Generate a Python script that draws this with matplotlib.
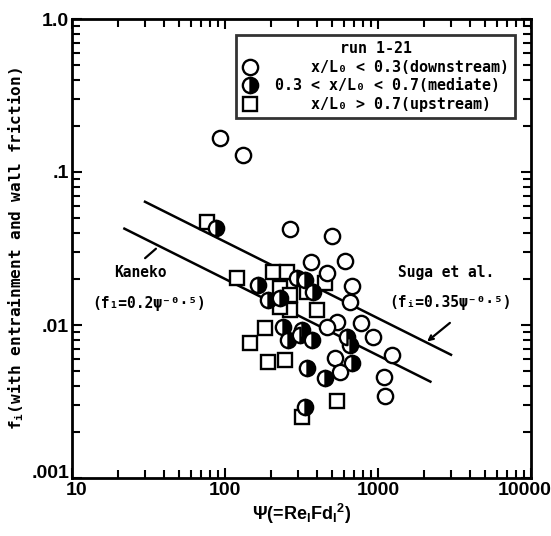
import numpy as np
import matplotlib
matplotlib.use("Agg")
import matplotlib.pyplot as plt
from matplotlib.lines import Line2D
import matplotlib.transforms as mtransforms
from matplotlib.ticker import FixedLocator, FixedFormatter, LogLocator, NullFormatter

plt.rcParams['mathtext.default'] = 'regular'

# ---- data ----
down_psi = [93, 131, 266, 500, 365, 608, 464, 676, 656, 540, 774, 927, 1235, 1095, 1110, 523, 565, 464]
down_f = [0.167, 0.129, 0.0424, 0.0382, 0.0258, 0.0262, 0.0219, 0.018, 0.0141, 0.0105,
          0.0103, 0.00835, 0.00637, 0.00457, 0.00343, 0.00608, 0.00493, 0.0097]

mid_psi = [87, 164, 296, 334, 191, 239, 318, 258, 370, 344, 451, 334, 676, 656, 376, 309, 627, 229]
mid_f = [0.043, 0.0183, 0.0203, 0.0197, 0.0146, 0.0097, 0.0093, 0.0080, 0.0080,
         0.0052, 0.0045, 0.0029, 0.00565, 0.0074, 0.0164, 0.0086, 0.0083, 0.015]

up_psi = [76, 120, 206, 254, 230, 399, 183, 146, 191, 247, 540, 318, 451, 266, 344, 266, 229]
up_f = [0.047, 0.0203, 0.0222, 0.0222, 0.0175, 0.0125, 0.0096, 0.0076, 0.0057,
        0.0059, 0.0032, 0.0025, 0.0188, 0.0157, 0.0164, 0.0125, 0.0131]

suga_psi = np.array([30, 3000])
suga_coef = 0.35
kaneko_psi = np.array([22, 2200])
kaneko_coef = 0.2
exponent = -0.5

x_ticks = [10, 100, 1000, 10000]
x_labels = ["10", "100", "1000", "10000"]
y_ticks = [0.001, 0.01, 0.1, 1.0]
y_labels = [".001", ".01", ".1", "1.0"]

legend_labels = ["    x/L\u2080 < 0.3(downstream)",
                 "0.3 < x/L\u2080 < 0.7(mediate)",
                 "    x/L\u2080 > 0.7(upstream)"]
legend_title = "run 1-21"

mono = ['DejaVu Sans Mono', 'DejaVu Sans']
sans = ['Liberation Sans', 'DejaVu Sans']

fig = plt.figure(figsize=(5.51, 5.36), dpi=100)
ax = fig.add_axes([72/551, 1-478/536, 459/551, 459/536])
ax.set_xscale('log')
ax.set_yscale('log')
ax.set_xlim(10, 10000)
ax.set_ylim(0.001, 1.0)

# model lines
ax.plot(suga_psi, suga_coef*suga_psi**exponent, color='black', lw=1.8, zorder=2)
ax.plot(kaneko_psi, kaneko_coef*kaneko_psi**exponent, color='black', lw=1.8, zorder=2)

ms = 11
mew = 1.7
ax.plot(up_psi, up_f, linestyle='none', marker='s', ms=ms-1, mfc='white', mec='black', mew=mew, zorder=3)
ax.plot(mid_psi, mid_f, linestyle='none', marker='o', ms=ms, mfc='black', mec='black', mew=mew,
        fillstyle='right', markerfacecoloralt='white', zorder=4)
ax.plot(down_psi, down_f, linestyle='none', marker='o', ms=ms, mfc='white', mec='black', mew=mew, zorder=5)

# annotations
ax.text(27.8, 0.0222, "Kaneko", family=mono, fontweight='bold', fontsize=10.5, ha='center', va='center')
ax.text(32, 0.0139, "(f\u2081=0.2\u03c8\u207b\u2070\u00b7\u2075)", family=mono, fontweight='bold', fontsize=10.5, ha='center', va='center')
ax.annotate("", xy=(36.5, 0.0324), xytext=(29.1, 0.0266),
            arrowprops=dict(arrowstyle='-', color='black', lw=1.6))
ax.text(2780, 0.0222, "Suga et al.", family=mono, fontweight='bold', fontsize=10.5, ha='center', va='center')
ax.text(3000, 0.0141, "(f\u1d62=0.35\u03c8\u207b\u2070\u00b7\u2075)", family=mono, fontweight='bold', fontsize=10.5, ha='center', va='center')
ax.annotate("", xy=(2028, 0.0076), xytext=(3048, 0.0106),
            arrowprops=dict(arrowstyle='->', color='black', lw=1.6, mutation_scale=8))

# ticks
ax.xaxis.set_major_locator(FixedLocator(x_ticks))
ax.xaxis.set_major_formatter(FixedFormatter(x_labels))
ax.yaxis.set_major_locator(FixedLocator(y_ticks))
ax.yaxis.set_major_formatter(FixedFormatter(y_labels))
ax.xaxis.set_minor_locator(LogLocator(base=10, subs=np.arange(2, 10)))
ax.yaxis.set_minor_locator(LogLocator(base=10, subs=np.arange(2, 10)))
ax.xaxis.set_minor_formatter(NullFormatter())
ax.yaxis.set_minor_formatter(NullFormatter())
ax.tick_params(which='both', direction='in', top=True, right=True, width=1.5, color='black')
ax.tick_params(which='major', length=7)
ax.tick_params(which='minor', length=6)
ax.tick_params(axis='x', pad=3)
ax.tick_params(axis='y', pad=2)
for lab in ax.get_xticklabels() + ax.get_yticklabels():
    lab.set_family(sans)
    lab.set_fontweight('bold')
    lab.set_fontsize(14)
# lift the lowest y label a little, as in the reference
ylabs = ax.get_yticklabels()
ylabs[0].set_transform(ylabs[0].get_transform() + mtransforms.ScaledTranslation(0, 6/100, fig.dpi_scale_trans))
xlabs = ax.get_xticklabels()
xlabs[0].set_transform(xlabs[0].get_transform() + mtransforms.ScaledTranslation(5/100, 0, fig.dpi_scale_trans))
xlabs[-1].set_transform(xlabs[-1].get_transform() + mtransforms.ScaledTranslation(-6/100, 0, fig.dpi_scale_trans))
for sp in ax.spines.values():
    sp.set_linewidth(2)

ax.set_xlabel("\u03a8(=Re$_I$Fd$_I$$^2$)", family=sans, fontweight='bold', fontsize=13, labelpad=2)
ax.set_ylabel("f$_i$(with entrainment and wall friction)", family=mono, fontweight='bold', fontsize=11.5, labelpad=4)

# legend
handles = [
    Line2D([], [], linestyle='none', marker='o', ms=ms, mfc='white', mec='black', mew=mew),
    Line2D([], [], linestyle='none', marker='o', ms=ms, mfc='black', mec='black', mew=mew,
           fillstyle='right', markerfacecoloralt='white'),
    Line2D([], [], linestyle='none', marker='s', ms=ms-1, mfc='white', mec='black', mew=mew),
]
leg = ax.legend(handles, legend_labels, title=legend_title, loc='upper right',
                bbox_to_anchor=((515-72)/459, (478-35)/459), borderaxespad=0,
                frameon=True, fancybox=False, handlelength=1.0, handletextpad=1.2,
                labelspacing=0.25, borderpad=0.4,
                prop=dict(family=mono, weight='bold', size=10.8))
leg.get_frame().set_edgecolor('black')
leg.get_frame().set_linewidth(2)
leg.get_title().set_fontproperties(dict(family=mono, weight='bold', size=10.8))
leg.set_zorder(10)

fig.savefig("out.png", dpi=100)
